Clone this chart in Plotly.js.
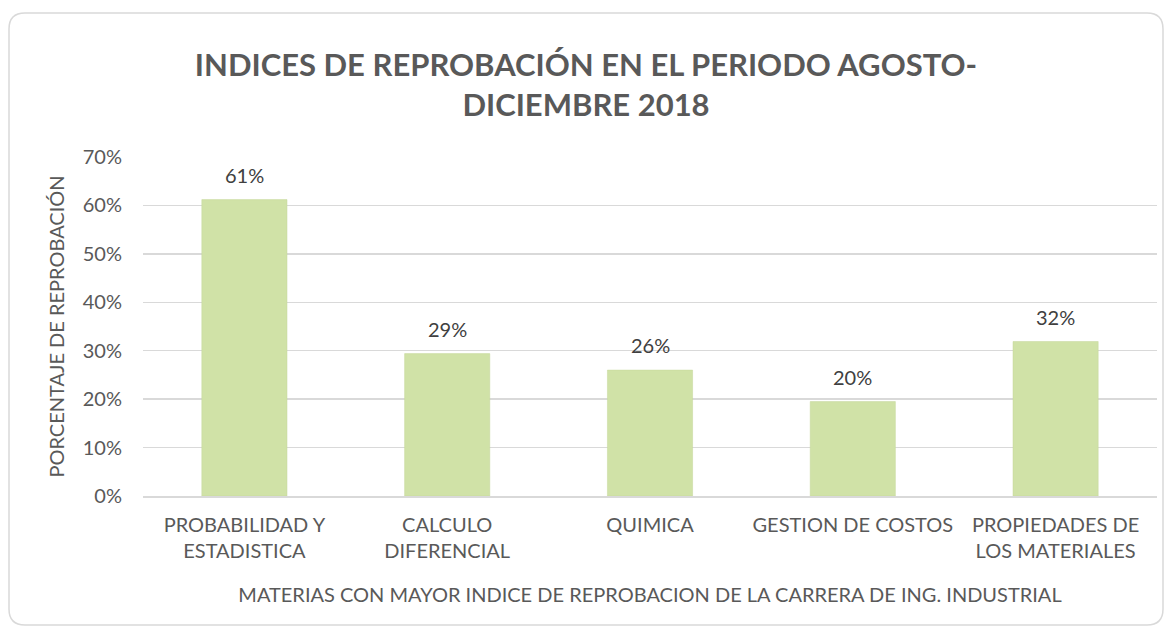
<!DOCTYPE html>
<html>
<head>
<meta charset="utf-8">
<script src="https://cdn.plot.ly/plotly-3.0.1.min.js"></script>
<style>
  html, body { margin: 0; padding: 0; background: #ffffff; }
  #chart { width: 1172px; height: 633px; }
</style>
</head>
<body>
<div id="chart"></div>
<script>
// ---- Data ----
const categories = [
  "PROBABILIDAD Y<br>ESTADISTICA",
  "CALCULO<br>DIFERENCIAL",
  "QUIMICA",
  "GESTION DE COSTOS",
  "PROPIEDADES DE<br>LOS MATERIALES"
];
const values = [0.612, 0.294, 0.26, 0.195, 0.319];
const yTickVals = [0, 0.1, 0.2, 0.3, 0.4, 0.5, 0.6, 0.7];
const yTickText = ["0%", "10%", "20%", "30%", "40%", "50%", "60%", "70%"];
const titleText = "INDICES DE REPROBACIÓN EN EL PERIODO AGOSTO-<br>DICIEMBRE 2018";
const xTitle = "MATERIAS CON MAYOR INDICE DE REPROBACION DE LA CARRERA DE ING. INDUSTRIAL";
const yTitle = "PORCENTAJE DE REPROBACIÓN";

// ---- Layout geometry (pixels) ----
const W = 1172, H = 633;
const M = { l: 143, r: 15, t: 157, b: 137 };
const pw = W - M.l - M.r, ph = H - M.t - M.b;
const px = v => (v - M.l) / pw;
const py = v => (H - M.b - v) / ph;

// rounded border path in paper coords
const bx0 = 9, bx1 = 1163, by0 = 13, by1 = 625, rad = 16;
const P = (x, y) => px(x).toFixed(5) + "," + py(y).toFixed(5);
const borderPath =
  "M" + P(bx0 + rad, by0) +
  " L" + P(bx1 - rad, by0) +
  " Q" + P(bx1, by0) + " " + P(bx1, by0 + rad) +
  " L" + P(bx1, by1 - rad) +
  " Q" + P(bx1, by1) + " " + P(bx1 - rad, by1) +
  " L" + P(bx0 + rad, by1) +
  " Q" + P(bx0, by1) + " " + P(bx0, by1 - rad) +
  " L" + P(bx0, by0 + rad) +
  " Q" + P(bx0, by0) + " " + P(bx0 + rad, by0) + " Z";

const FONT = "Lato, 'Open Sans', sans-serif";
const GREY = "#595959";

const trace = {
  type: "bar",
  x: categories,
  y: values,
  marker: { color: "#d0e2a7", line: { color: "#c4d69b", width: 0.5 } },
  hoverinfo: "skip",
  cliponaxis: false
};

const labels = categories.map((c, i) => ({
  x: c, y: values[i], xref: "x", yref: "y",
  text: Math.round(values[i] * 100) + "%",
  showarrow: false, yanchor: "bottom", yshift: 11,
  font: { family: FONT, size: 20, color: "#404040" }
}));

const layout = {
  width: W, height: H,
  margin: M,
  paper_bgcolor: "#ffffff",
  plot_bgcolor: "#ffffff",
  showlegend: false,
  bargap: 0.58,
  title: {
    text: titleText,
    x: 0.5, xanchor: "center",
    y: 1 - 76 / H, yanchor: "top",
    font: { family: FONT, size: 31, color: GREY, weight: "bold" }
  },
  xaxis: {
    type: "category",
    showgrid: false,
    showline: true, linecolor: "#d9d9d9", linewidth: 1.5,
    ticks: "",
    ticklabelstandoff: 10,
    tickfont: { family: FONT, size: 20, color: GREY },
    title: { text: xTitle, font: { family: FONT, size: 20, color: GREY }, standoff: 27 },
    fixedrange: true
  },
  yaxis: {
    range: [0, 0.7],
    tickvals: yTickVals, ticktext: yTickText,
    showgrid: true, gridcolor: "#d9d9d9", gridwidth: 1.5,
    zeroline: false, showline: false, ticks: "",
    ticklabelstandoff: 20,
    tickfont: { family: FONT, size: 20, color: GREY },
    title: { text: yTitle, font: { family: FONT, size: 20, color: GREY }, standoff: 12 },
    fixedrange: true
  },
  annotations: labels,
  shapes: [{
    type: "path", xref: "paper", yref: "paper",
    path: borderPath,
    line: { color: "#d9d9d9", width: 1.5 },
    fillcolor: "rgba(0,0,0,0)",
    layer: "below"
  }]
};

Plotly.newPlot("chart", [trace], layout, { displayModeBar: false, staticPlot: true });
</script>
</body>
</html>
